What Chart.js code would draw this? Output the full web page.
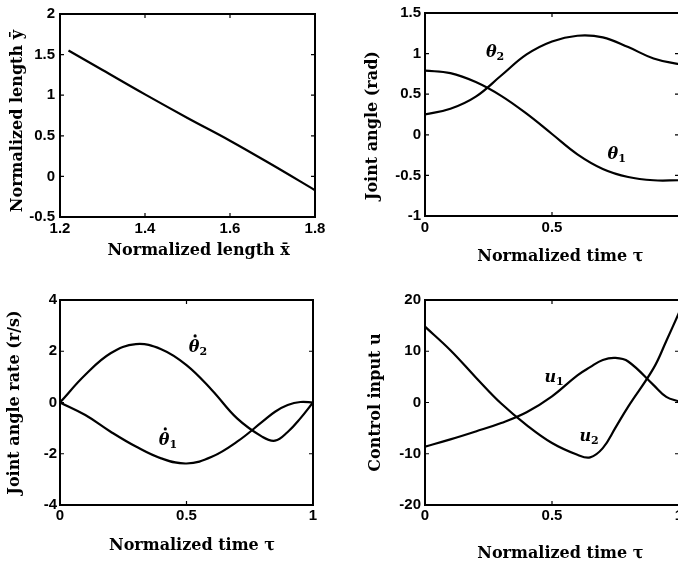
<!DOCTYPE html>
<html><head><meta charset="utf-8">
<script src="https://cdn.jsdelivr.net/npm/chart.js@4.4.1/dist/chart.umd.min.js"></script>
<style>
html,body{margin:0;padding:0;background:#fff;overflow:hidden;width:678px;height:561px;position:relative}
.box{position:absolute}
canvas{display:block}
</style></head><body>
<div class="box" style="left:0;top:0"><canvas id="cA" width="340" height="290"></canvas></div>
<div class="box" style="left:340px;top:0"><canvas id="cB" width="360" height="290"></canvas></div>
<div class="box" style="left:0;top:280px"><canvas id="cC" width="340" height="290"></canvas></div>
<div class="box" style="left:340px;top:280px"><canvas id="cD" width="360" height="290"></canvas></div>
<script>
// ---- data ----
const lenX = [1.22, 1.3, 1.4, 1.5, 1.6, 1.7, 1.8];
const lenY = [1.55, 1.31, 1.01, 0.72, 0.44, 0.14, -0.17];
const lenXTicks = [1.2, 1.4, 1.6, 1.8];
const lenXLabels = ['1.2', '1.4', '1.6', '1.8'];
const lenYTicks = [-0.5, 0, 0.5, 1, 1.5, 2];
const lenYLabels = ['-0.5', '0', '0.5', '1', '1.5', '2'];

const tauB = [0, 0.1, 0.2, 0.3, 0.4, 0.5, 0.6, 0.7, 0.8, 0.9, 1.0];
const theta1 = [0.79, 0.76, 0.65, 0.48, 0.26, 0.01, -0.24, -0.42, -0.52, -0.56, -0.56];
const theta2 = [0.25, 0.32, 0.47, 0.73, 0.99, 1.15, 1.22, 1.20, 1.08, 0.94, 0.87];
const angYTicks = [-1, -0.5, 0, 0.5, 1, 1.5];
const angYLabels = ['-1', '-0.5', '0', '0.5', '1', '1.5'];
const tauTicksB = [0, 0.5, 1];
const tauLabelsB = ['0', '0.5', ''];

const tauC = [0, 0.1, 0.2, 0.3, 0.4, 0.5, 0.6, 0.7, 0.8, 0.85, 0.9, 0.95, 1.0];
const dTheta1 = [0, -0.49, -1.14, -1.72, -2.18, -2.38, -2.12, -1.53, -0.75, -0.36, -0.10, 0.02, 0];
const dTheta2 = [0, 1.08, 1.92, 2.28, 2.08, 1.46, 0.49, -0.62, -1.34, -1.49, -1.15, -0.62, 0];
const rateYTicks = [-4, -2, 0, 2, 4];
const rateYLabels = ['-4', '-2', '0', '2', '4'];

const tauD = [0, 0.1, 0.2, 0.3, 0.4, 0.5, 0.6, 0.65, 0.7, 0.75, 0.8, 0.9, 0.95, 1.0];
const u1 = [-8.6, -7.2, -5.65, -4.0, -1.9, 1.2, 5.3, 6.9, 8.3, 8.7, 8.0, 3.4, 1.1, 0.2];
const u2 = [14.8, 10.2, 4.9, -0.2, -4.4, -7.9, -10.2, -10.7, -8.9, -4.9, -0.8, 6.7, 12.0, 17.5];
const uYTicks = [-20, -10, 0, 10, 20];
const uYLabels = ['-20', '-10', '0', '10', '20'];

const tauTicks = [0, 0.5, 1];
const tauLabels = ['0', '0.5', '1'];

// curve annotations: [text, subscript, x, y, dotted]
const notesB = [['θ', '2', 0.276, 1.02, false], ['θ', '1', 0.755, -0.24, false]];
const notesC = [['θ', '2', 0.545, 2.17, true], ['θ', '1', 0.427, -1.46, true]];
const notesD = [['u', '1', 0.508, 4.9, false], ['u', '2', 0.646, -6.5, false]];

// ---- styling ----
const tickFont = {family: 'Liberation Sans', size: 15, weight: 'bold'};
const titleFont = {family: 'DejaVu Serif', size: 16, weight: 'bold'};

function pts(xs, ys) { return xs.map((x, i) => ({x: x, y: ys[i]})); }

function mkScale(o) {
  return {
    type: 'linear', min: o.min, max: o.max,
    grid: {display: false, drawTicks: false, tickLength: 0},
    border: {display: false},
    afterBuildTicks: s => { s.ticks = o.ticks.map(v => ({value: v})); },
    afterFit: s => { if (o.w !== undefined) s.width = o.w; if (o.h !== undefined) s.height = o.h; },
    ticks: {color: '#000', font: tickFont, padding: o.tp, maxRotation: 0, minRotation: 0, autoSkip: false,
            callback: (v, i) => o.labels[i]},
    title: {display: true, text: o.title, color: '#000', font: titleFont, padding: o.pad}
  };
}

function framePlugin(notes) {
  return {
    id: 'frame',
    afterDraw(chart) {
      const {ctx, chartArea: a, scales} = chart;
      ctx.save();
      ctx.strokeStyle = '#000';
      ctx.lineWidth = 2;
      ctx.strokeRect(a.left, a.top, a.right - a.left, a.bottom - a.top);
      ctx.lineWidth = 1.2;
      const tl = 4;
      ctx.beginPath();
      scales.x.ticks.forEach(t => {
        const p = scales.x.getPixelForValue(t.value);
        ctx.moveTo(p, a.bottom); ctx.lineTo(p, a.bottom - tl);
        ctx.moveTo(p, a.top); ctx.lineTo(p, a.top + tl);
      });
      scales.y.ticks.forEach(t => {
        const p = scales.y.getPixelForValue(t.value);
        ctx.moveTo(a.left, p); ctx.lineTo(a.left + tl, p);
        ctx.moveTo(a.right, p); ctx.lineTo(a.right - tl, p);
      });
      ctx.stroke();
      ctx.fillStyle = '#000';
      ctx.textBaseline = 'alphabetic';
      ctx.textAlign = 'left';
      (notes || []).forEach(n => {
        const px = scales.x.getPixelForValue(n[2]);
        const py = scales.y.getPixelForValue(n[3]);
        ctx.font = 'italic bold 16px "DejaVu Serif"';
        const wb = ctx.measureText(n[0]).width;
        ctx.font = 'bold 11px "DejaVu Serif"';
        const ws = ctx.measureText(n[1]).width;
        const x0 = px - (wb + ws) / 2;
        ctx.font = 'italic bold 16px "DejaVu Serif"';
        ctx.fillText(n[0], x0, py + 5);
        ctx.font = 'bold 11px "DejaVu Serif"';
        ctx.fillText(n[1], x0 + wb, py + 8);
        if (n[4]) {
          ctx.beginPath();
          ctx.arc(x0 + wb * 0.6, py - 11, 1.6, 0, Math.PI * 2);
          ctx.fill();
        }
      });
      ctx.restore();
    }
  };
}

function ds(data) {
  return {data: data, borderColor: '#000', borderWidth: 2.2, pointRadius: 0, fill: false, tension: 0.4};
}

function mkChart(id, datasets, xs, ys, pad, notes) {
  return new Chart(document.getElementById(id), {
    type: 'line',
    data: {datasets: datasets},
    options: {
      responsive: false, animation: false, devicePixelRatio: 1,
      layout: {padding: pad, autoPadding: false},
      plugins: {legend: {display: false}, tooltip: {enabled: false}},
      scales: {x: mkScale(xs), y: mkScale(ys)}
    },
    plugins: [framePlugin(notes)]
  });
}

mkChart('cA', [ds(pts(lenX, lenY))],
  {min: 1.2, max: 1.8, ticks: lenXTicks, labels: lenXLabels, h: 73, tp: 3, title: '    Normalized length x\u0304', pad: {top: 0, bottom: 30}},
  {min: -0.5, max: 2, ticks: lenYTicks, labels: lenYLabels, w: 60, tp: 5, title: 'Normalized length \u0233  ', pad: {top: 8, bottom: 0}},
  {left: 0, top: 10, right: 25, bottom: 0}, []);

mkChart('cB', [ds(pts(tauB, theta1)), ds(pts(tauB, theta2))],
  {min: 0, max: 1, ticks: tauTicksB, labels: tauLabelsB, h: 74, tp: 3, title: '   Normalized time \u03C4', pad: {top: 0, bottom: 24}},
  {min: -1, max: 1.5, ticks: angYTicks, labels: angYLabels, w: 85, tp: 4, title: 'Joint angle (rad)    ', pad: {top: 23, bottom: 0}},
  {left: 0, top: 8, right: 21, bottom: 0}, notesB);

mkChart('cC', [ds(pts(tauC, dTheta1)), ds(pts(tauC, dTheta2))],
  {min: 0, max: 1, ticks: tauTicks, labels: tauLabels, h: 65, tp: 2, title: '  Normalized time \u03C4', pad: {top: 0, bottom: 15}},
  {min: -4, max: 4, ticks: rateYTicks, labels: rateYLabels, w: 60, tp: 3, title: 'Joint angle rate (r/s)', pad: {top: 5, bottom: 0}},
  {left: 0, top: 20, right: 27, bottom: 0}, notesC);

mkChart('cD', [ds(pts(tauD, u1)), ds(pts(tauD, u2))],
  {min: 0, max: 1, ticks: tauTicks, labels: tauLabels, h: 65, tp: 2, title: '   Normalized time \u03C4', pad: {top: 0, bottom: 7}},
  {min: -20, max: 20, ticks: uYTicks, labels: uYLabels, w: 85, tp: 4, title: 'Control input u', pad: {top: 26, bottom: 0}},
  {left: 0, top: 20, right: 21, bottom: 0}, notesD);
</script>
</body></html>
